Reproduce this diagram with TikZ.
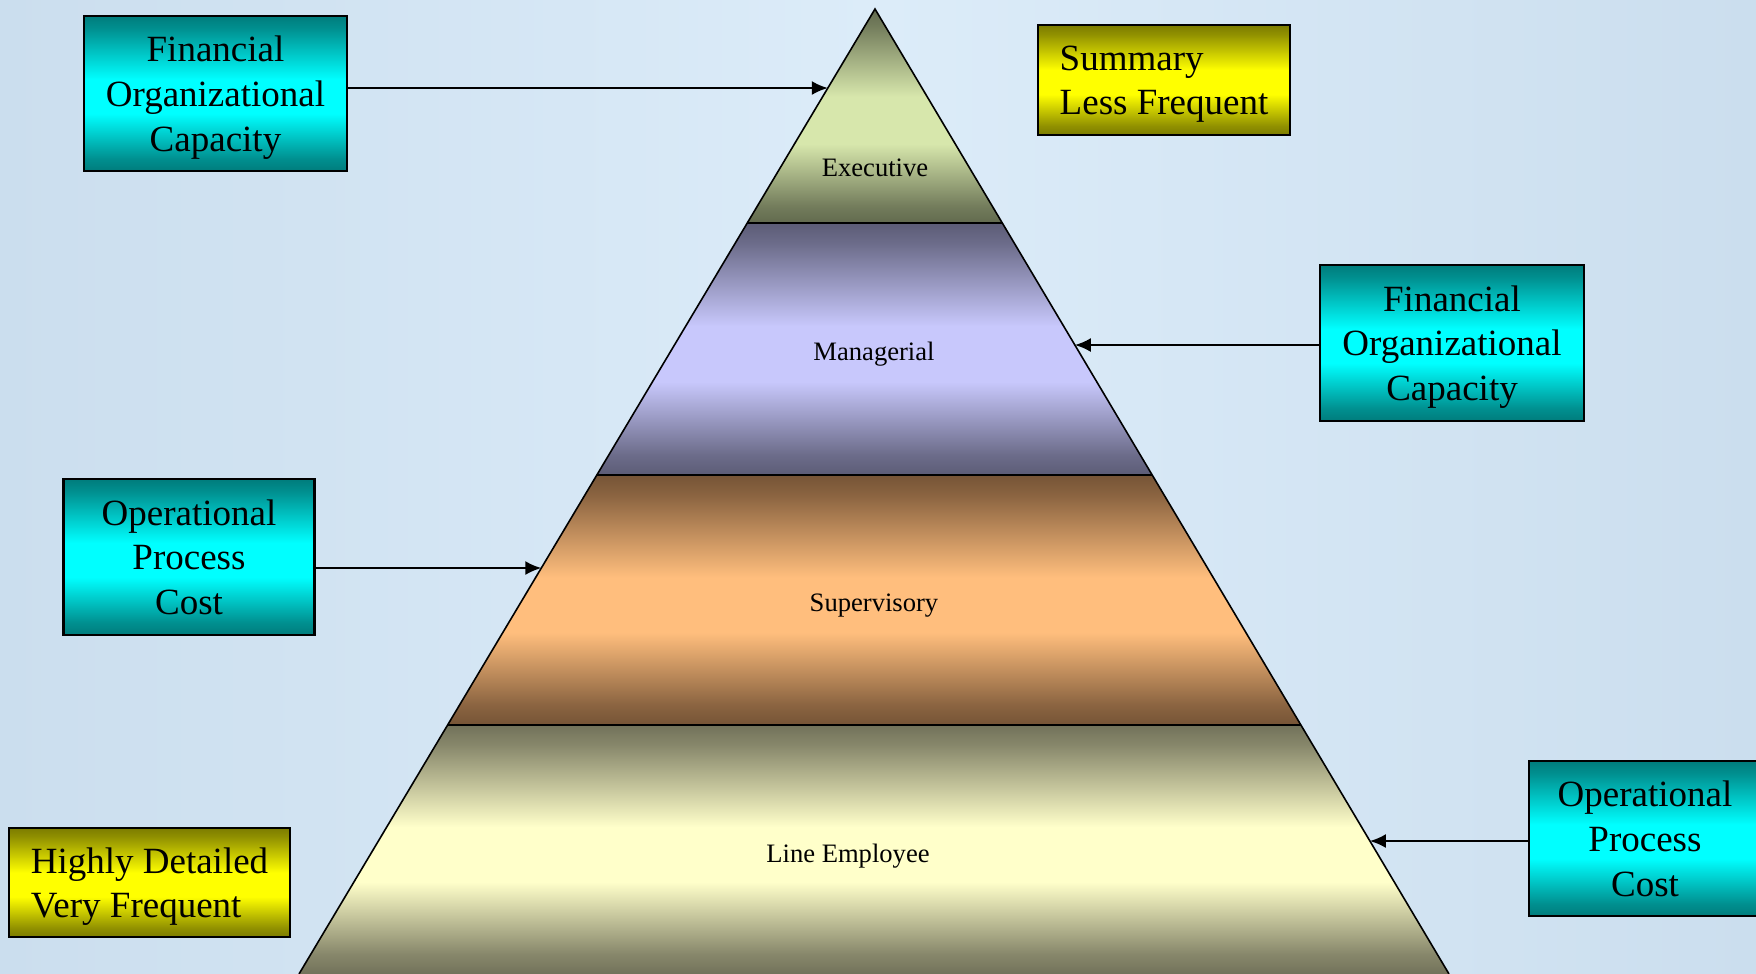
\documentclass[tikz,border=0pt]{standalone}
\usepackage{fontspec}
\setmainfont{Liberation Serif}
\usetikzlibrary{calc, arrows.meta}

\definecolor{bgside}{RGB}{203,222,238}
\definecolor{bgmid}{RGB}{220,236,249}
\definecolor{tealdark}{RGB}{0,124,124}
\definecolor{tealbright}{RGB}{0,255,255}
\definecolor{olivedark}{RGB}{124,124,0}
\definecolor{yellowbright}{RGB}{255,255,0}
\definecolor{execdark}{RGB}{98,106,78}
\definecolor{execlight}{RGB}{215,231,172}
\definecolor{mgrdark}{RGB}{92,92,118}
\definecolor{mgrlight}{RGB}{200,200,252}
\definecolor{supdark}{RGB}{118,84,54}
\definecolor{suplight}{RGB}{255,190,125}
\definecolor{linedark}{RGB}{114,114,90}
\definecolor{linelight}{RGB}{255,255,202}

% dark - light - dark, with a flat light part a little above the middle
\newcommand{\bandshading}[3]{%
  \pgfdeclareverticalshading{#1}{100bp}{color(0bp)=(#2); color(25bp)=(#2); color(29bp)=(#2!85!#3);
    color(43.5bp)=(#3); color(54.5bp)=(#3); color(71bp)=(#2!85!#3); color(75bp)=(#2); color(100bp)=(#2)}}
\bandshading{execshade}{execdark}{execlight}
\bandshading{mgrshade}{mgrdark}{mgrlight}
\bandshading{supshade}{supdark}{suplight}
\bandshading{lineshade}{linedark}{linelight}
\bandshading{boxshade}{tealdark}{tealbright}
\bandshading{noteshade}{olivedark}{yellowbright}

\tikzset{
box/.style={
  draw,
  rectangle,
  line width=1.2pt,
  shading=boxshade,
  align=center,
  text depth=-2.5pt,
  font=\fontsize{18.5}{22.4}\selectfont
  },
note/.style={
  draw,
  rectangle,
  line width=1.2pt,
  shading=noteshade,
  align=left,
  text depth=-3pt,
  font=\fontsize{18.5}{22}\selectfont
  },
level/.style={font=\fontsize{13.3}{16}\selectfont},
band/.style={draw, line width=0.8pt},
line/.style={-{Latex[length=8pt,width=7pt]}, line width=1pt}
}

\begin{document}
\begin{tikzpicture}[x=0.5pt, y=-0.5pt]

\clip (0,0) rectangle (1756,974);
\shade[left color=bgside, right color=bgside, middle color=bgmid] (0,0) rectangle (1756,974);

% pyramid
\coordinate (apex)	at (875,9);
\coordinate (baseL)	at (299,974);
\coordinate (baseR)	at (1449,974);
\coordinate (l1) at ($(apex)!0.2218!(baseL)$);
\coordinate (r1) at ($(apex)!0.2218!(baseR)$);
\coordinate (l2) at ($(apex)!0.4829!(baseL)$);
\coordinate (r2) at ($(apex)!0.4829!(baseR)$);
\coordinate (l3) at ($(apex)!0.7420!(baseL)$);
\coordinate (r3) at ($(apex)!0.7420!(baseR)$);

\shade[shading=execshade]	(apex) -- (r1) -- (l1) -- cycle;
\shade[shading=mgrshade]	(l1) -- (r1) -- (r2) -- (l2) -- cycle;
\shade[shading=supshade]	(l2) -- (r2) -- (r3) -- (l3) -- cycle;
\shade[shading=lineshade]	(l3) -- (r3) -- (baseR) -- (baseL) -- cycle;

\draw[band] (baseL) -- (apex) -- (baseR);
\draw[band] (l1) -- (r1);
\draw[band] (l2) -- (r2);
\draw[band] (l3) -- (r3);

\node[level]	(exec)		at (875,168)	{Executive};
\node[level]	(manager)	at (874,354)	{Managerial};
\node[level]	(super)		at (874,606)	{Supervisory};
\node[level]	(employee)	at (848,856)	{Line Employee};

% side boxes
\node[box, minimum width=131.5pt, minimum height=77.5pt]	(finL)	at (215.5,93.5)	{Financial \\ Organizational \\ Capacity};
\node[box, minimum width=132pt, minimum height=78pt]		(finR)	at (1452,343)	{Financial \\ Organizational \\ Capacity};
\node[box, minimum width=125.5pt, minimum height=78pt]		(opL)	at (189,557)	{Operational \\ Process \\ Cost};
\node[box, minimum width=116pt, minimum height=77.5pt]		(opR)	at (1645,838.5)	{Operational \\ Process \\ Cost};
\node[note, minimum width=126pt, minimum height=55pt]		(summary)	at (1164,80)	{Summary \\ Less Frequent};
\node[note, minimum width=140.5pt, minimum height=54.5pt]	(detail)	at (149.5,882.5)	{Highly Detailed \\ Very Frequent};

% arrow ends on the pyramid sides
\coordinate (finLend)	at ($(apex)!0.0819!(baseL)$);
\coordinate (finRend)	at ($(apex)!0.3482!(baseR)$);
\coordinate (opLend)	at ($(apex)!0.5793!(baseL)$);
\coordinate (opRend)	at ($(apex)!0.8622!(baseR)$);

\draw[line]	(finL.east |- finLend)	--	(finLend);
\draw[line]	(finR.west |- finRend)	--	(finRend);
\draw[line]	(opL.east |- opLend)	--	(opLend);
\draw[line]	(opR.west |- opRend)	--	(opRend);
\end{tikzpicture}
\end{document}
